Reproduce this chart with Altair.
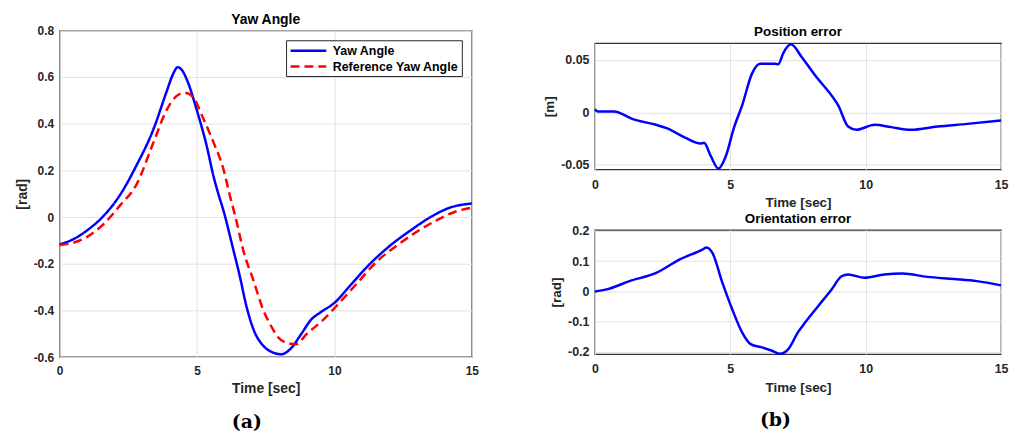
import altair as alt
import pandas as pd

# ---- data ----
series_names = ["Yaw Angle", "Reference Yaw Angle"]

t_yaw = [0, 0.5, 1.0, 1.6, 2.2, 2.8, 3.4, 3.9, 4.1, 4.3, 4.45, 4.65, 5.0, 5.35, 5.6, 5.75,
         6.0, 6.3, 6.55, 6.8, 7.05, 7.4, 7.7, 8.07, 8.4, 8.8, 9.15, 9.5, 10.0, 10.6, 11.3,
         12.0, 12.8, 13.5, 14.2, 15.0]
yaw = [-0.117, -0.095, -0.057, 0.005, 0.095, 0.222, 0.372, 0.54, 0.605, 0.642, 0.63, 0.583,
       0.455, 0.306, 0.175, 0.11, 0.012, -0.13, -0.25, -0.383, -0.48, -0.55, -0.577, -0.588,
       -0.565, -0.5, -0.44, -0.408, -0.368, -0.29, -0.2, -0.125, -0.055, 0.0, 0.04, 0.058]

t_ref = [0, 0.5, 1.0, 1.6, 2.2, 2.8, 3.4, 3.9, 4.25, 4.55, 4.85, 5.2, 5.6, 5.95, 6.2, 6.4,
         6.7, 7.05, 7.4, 7.7, 7.95, 8.3, 8.6, 9.0, 9.6, 10.2, 10.8, 11.55, 12.3, 13.0, 13.7,
         14.45, 15.0]
ref_yaw = [-0.12, -0.11, -0.085, -0.03, 0.05, 0.14, 0.315, 0.46, 0.518, 0.533, 0.515, 0.43,
           0.32, 0.21, 0.09, 0.0, -0.15, -0.27, -0.395, -0.468, -0.515, -0.54, -0.545, -0.5,
           -0.44, -0.365, -0.287, -0.19, -0.12, -0.063, -0.015, 0.025, 0.04]

t_pos = [0, 0.1, 0.7, 1.4, 2.25, 2.65, 3.35, 3.9, 4.03, 4.28, 4.56, 4.83, 5.13, 5.44, 5.8,
         6.1, 6.65, 6.77, 6.97, 7.24, 7.64, 8.13, 8.86, 8.98, 9.35, 9.66, 10.33, 10.94, 11.67,
         12.65, 13.75, 15.0]
pos_err = [0.003, 0.001, 0.001, -0.0064, -0.0118, -0.015, -0.0243, -0.0297, -0.029, -0.0417,
           -0.0535, -0.042, -0.015, 0.007, 0.037, 0.0464, 0.0464, 0.046, 0.0574, 0.065, 0.0527,
           0.0354, 0.0118, 0.007, -0.0134, -0.0165, -0.0118, -0.014, -0.0165, -0.0134, -0.0109,
           -0.0077]

t_ori = [0, 0.43, 1.28, 2.26, 3.12, 3.97, 4.12, 4.34, 4.71, 5.07, 5.44, 5.75, 6.17, 6.54,
         6.85, 7.15, 7.49, 7.76, 8.25, 8.74, 9.11, 9.35, 9.96, 10.69, 11.36, 12.28, 13.26,
         14.11, 15.0]
ori_err = [0.0, 0.0066, 0.034, 0.061, 0.105, 0.138, 0.145, 0.127, 0.028, -0.059, -0.136,
           -0.174, -0.185, -0.196, -0.206, -0.19, -0.136, -0.103, -0.048, 0.0066, 0.05, 0.056,
           0.045, 0.056, 0.059, 0.048, 0.041, 0.034, 0.02]

x_ticks = [0, 5, 10, 15]
yaw_ticks = [-0.6, -0.4, -0.2, 0, 0.2, 0.4, 0.6, 0.8]
pos_ticks = [-0.05, 0, 0.05]
ori_ticks = [-0.2, -0.1, 0, 0.1, 0.2]

FONT = "Liberation Sans"
TXT = "#262626"
BLUE = "#0000ff"
RED = "#ff0000"

yaw_df = pd.DataFrame({
    "t": t_yaw + t_ref,
    "v": yaw + ref_yaw,
    "series": [series_names[0]] * len(t_yaw) + [series_names[1]] * len(t_ref),
})
pos_df = pd.DataFrame({"t": t_pos, "v": pos_err})
ori_df = pd.DataFrame({"t": t_ori, "v": ori_err})


def x_enc(title_size, label_size):
    return alt.X("t:Q", scale=alt.Scale(domain=[0, 15], nice=False, zero=False),
                 axis=alt.Axis(values=x_ticks, title="Time [sec]", labelFlush=False,
                               labelPadding=9, titlePadding=5, labelFontSize=label_size,
                               titleFontSize=title_size, format="d"))


def y_enc(domain, ticks, title, mult, title_size, label_size):
    return alt.Y("v:Q", scale=alt.Scale(domain=domain, nice=False, zero=False),
                 axis=alt.Axis(values=ticks, title=title, labelOverlap=False,
                               labelExpr=f"'' + round(datum.value*{mult})/{mult}",
                               labelPadding=6, titlePadding=4, labelFontSize=label_size,
                               titleFontSize=title_size))


legend = alt.Legend(title=None, orient="none", legendX=228, legendY=10,
                    symbolType="M-1,0L5,0", symbolSize=144, symbolStrokeWidth=2.5,
                    labelFont=FONT, labelFontSize=12.5, labelFontWeight="bold",
                    labelColor="black", fillColor="white", strokeColor=TXT, padding=3,
                    rowPadding=2, labelOffset=29)

left = alt.Chart(yaw_df).mark_line(strokeWidth=2.5, interpolate="monotone").encode(
    x=x_enc(14, 12),
    y=y_enc([-0.6, 0.8], yaw_ticks, "[rad]", 10, 14, 12),
    color=alt.Color("series:N", sort=series_names,
                    scale=alt.Scale(domain=series_names, range=[BLUE, RED]), legend=legend),
    strokeDash=alt.StrokeDash("series:N", sort=series_names,
                              scale=alt.Scale(domain=series_names, range=[[1, 0], [9, 5]]),
                              legend=legend),
).properties(width=415, height=329,
             title=alt.Title("Yaw Angle", fontSize=14, offset=-3))

top = alt.Chart(pos_df).mark_line(color=BLUE, strokeWidth=2.5, interpolate="monotone").encode(
    x=x_enc(13.5, 12.5),
    y=y_enc([-0.0543, 0.066], pos_ticks, "[m]", 100, 13.5, 12.5),
).properties(width=409, height=127,
             title=alt.Title("Position error", fontSize=13.5, offset=1))

bottom = alt.Chart(ori_df).mark_line(color=BLUE, strokeWidth=2.5, interpolate="monotone").encode(
    x=x_enc(13.5, 12.5),
    y=y_enc([-0.207, 0.203], ori_ticks, "[rad]", 10, 13.5, 12.5),
).properties(width=409, height=125,
             title=alt.Title("Orientation error", fontSize=13.5, offset=-1))

# invisible 1px spacer that sets the right column lower than the left panel
spacer = alt.Chart(pd.DataFrame({"s": [0]})).mark_point(opacity=0).encode(
    x=alt.X("s:Q", axis=None), y=alt.Y("s:Q", axis=None)
).properties(width=1, height=1, view=alt.ViewBackground(strokeOpacity=0, fillOpacity=0))

cap = dict(orient="bottom", font="DejaVu Serif", fontSize=19, fontWeight="bold",
           color="black", anchor="middle", offset=17)

col_a = alt.vconcat(left, title=alt.Title("(a)", **cap)).resolve_scale(
    color="independent", strokeDash="independent")
inner = alt.vconcat(spacer, top, spacing=12, bounds="flush")
col_b = alt.vconcat(inner, bottom, spacing=1, title=alt.Title("(b)", **cap))

chart = alt.hconcat(col_a, col_b, spacing=62).resolve_scale(
    color="independent", strokeDash="independent"
).properties(
    padding={"left": 6, "top": 3, "right": 5, "bottom": 2}
).configure_view(
    stroke="#333333", strokeWidth=1.3
).configure_axis(
    labelFont=FONT, labelFontWeight="bold", labelColor=TXT,
    titleFont=FONT, titleFontWeight="bold", titleColor=TXT,
    gridColor="#e2e2e2", gridWidth=1, domain=False, ticks=False, tickSize=0
).configure_title(
    font=FONT, fontWeight="bold", color="black"
)

chart.save("out.html", embed_options={"renderer": "svg", "actions": False})
